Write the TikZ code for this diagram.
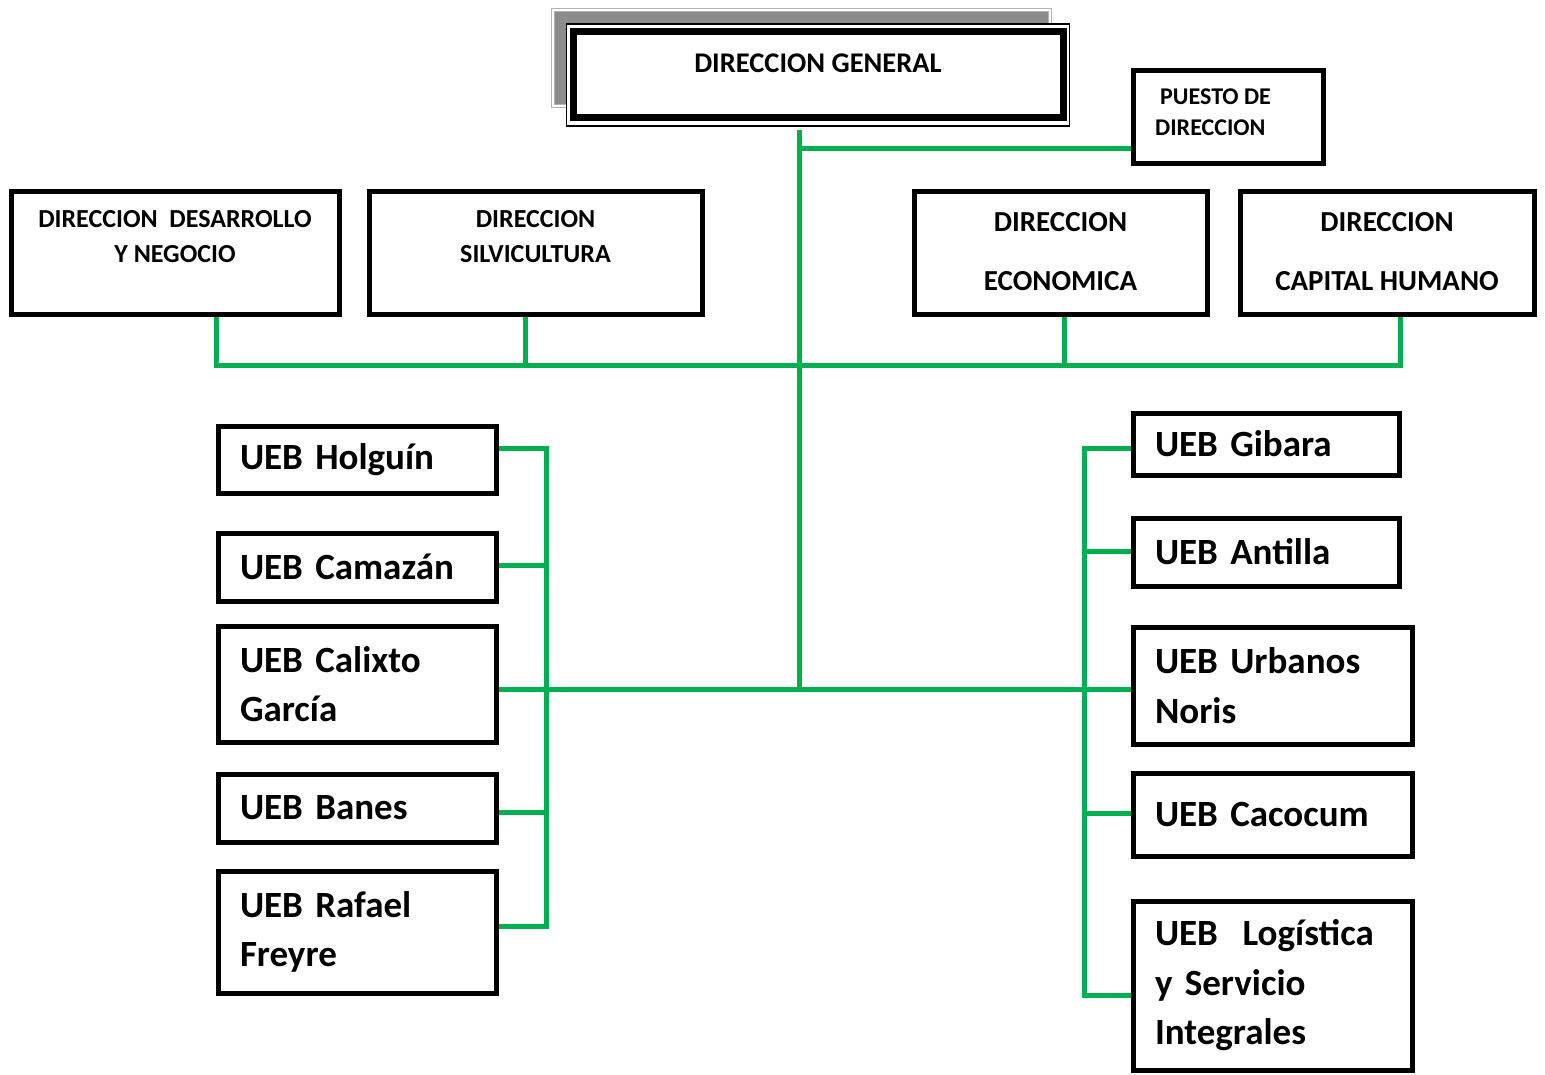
\documentclass[tikz,border=0pt]{standalone}
\usepackage{fontspec}
\setmainfont{Carlito}
\definecolor{lgreen}{RGB}{0,176,80}
\begin{document}
\begin{tikzpicture}[x=1pt,y=-1pt,
  box/.style={draw=black,line width=5pt,fill=white,inner sep=0pt},
  conn/.style={draw=lgreen,line width=5pt},
  ttxt/.style={font=\bfseries\fontsize{26}{35}\selectfont,align=center,inner sep=0pt},
  btxt/.style={font=\bfseries\fontsize{29}{59}\selectfont,align=center,inner sep=0pt},
  ueb/.style={box,font=\bfseries\fontsize{37}{49.5}\selectfont,align=left,inner xsep=22pt,inner ysep=0pt}]
\useasboundingbox (0,0) rectangle (1545,1074);
% Direccion general
\node[draw=gray!60,double=white,double distance=2.5pt,line width=1pt,fill=gray!90,minimum width=497pt,minimum height=96pt,inner sep=0pt] (dgsh) at (801.5,58) {};
\node[draw=black,line width=1.5pt,fill=white,minimum width=503pt,minimum height=102pt,inner sep=0pt] (dg) at (818,75) {};
\node[draw=black,line width=7pt,minimum width=490pt,minimum height=86pt,inner sep=0pt] (dgin) at (818,74) {};
\node[font=\bfseries\fontsize{28.5}{32}\selectfont,inner sep=0pt] (dgt) at (818,63) {DIRECCION GENERAL};
% Puesto de direccion
\node[box,minimum width=190pt,minimum height=93pt] (pd) at (1228,116.5) {};
\node[font=\bfseries\fontsize{24}{31}\selectfont,align=left,inner sep=0pt,anchor=west] (pdt) at (1155,112.5) {\hspace{5pt}PUESTO DE\\DIRECCION};
% Direcciones
\node[box,minimum width=328pt,minimum height=123pt] (dd) at (175,252.5) {};
\node[ttxt] (ddt) at (175,236.5) {DIRECCION\ \ DESARROLLO\\Y NEGOCIO};
\node[box,minimum width=333pt,minimum height=123pt] (ds) at (535.5,252.5) {};
\node[ttxt] (dst) at (535.5,236.5) {DIRECCION\\SILVICULTURA};
\node[box,minimum width=293pt,minimum height=123pt] (de) at (1060.5,252.5) {};
\node[btxt] (det) at (1060.5,251.5) {DIRECCION\\ECONOMICA};
\node[box,minimum width=294pt,minimum height=123pt] (dc) at (1387,252.5) {};
\node[btxt] (dct) at (1387,251.5) {DIRECCION\\CAPITAL HUMANO};
% UEB left
\node[ueb,minimum width=278pt,minimum height=67pt,text width=234pt] (hol) at (357,459.5) {UEB Holguín};
\node[ueb,minimum width=278pt,minimum height=68pt,text width=234pt] (cam) at (357,567) {UEB Camazán};
\node[ueb,minimum width=278pt,minimum height=116pt,text width=234pt] (cal) at (357,684) {UEB Calixto\\García};
\node[ueb,minimum width=278pt,minimum height=68pt,text width=234pt] (ban) at (357,808) {UEB Banes};
\node[ueb,minimum width=278pt,minimum height=122pt,text width=234pt] (raf) at (357,932) {UEB Rafael\\Freyre};
% UEB right
\node[ueb,minimum width=266pt,minimum height=62pt,text width=222pt] (gib) at (1266,444) {UEB Gibara};
\node[ueb,minimum width=266pt,minimum height=68pt,text width=222pt] (ant) at (1266,552) {UEB Antilla};
\node[ueb,minimum width=279pt,minimum height=117pt,text width=235pt] (urb) at (1272.5,685.5) {UEB Urbanos\\Noris};
\node[ueb,minimum width=279pt,minimum height=83pt,text width=235pt] (cac) at (1272.5,814.5) {UEB Cacocum};
\node[ueb,minimum width=279pt,minimum height=169pt,text width=235pt] (log) at (1272.5,985.5) {UEB\ \ Logística\\y Servicio\\Integrales};
% junction coordinates
\coordinate (tt) at (799,130);
\coordinate (tp) at (799,148);
\coordinate (tm) at (799,365);
\coordinate (tb) at (799,689);
\coordinate (b1) at (216,365);
\coordinate (b2) at (525,365);
\coordinate (b3) at (1064,365);
\coordinate (b4) at (1400,365);
\coordinate (l1) at (546,448);
\coordinate (l2) at (546,565);
\coordinate (l3) at (546,689);
\coordinate (l4) at (546,812);
\coordinate (l5) at (546,926);
\coordinate (r1) at (1084,448);
\coordinate (r2) at (1084,551);
\coordinate (r3) at (1084,689);
\coordinate (r4) at (1084,813);
\coordinate (r5) at (1084,995);
% connectors
\draw[conn] (tt) -- (tb);
\draw[conn] (tp) -- (tp -| pd.west);
\draw[conn] (dd.south -| b1) -- (b1) -- (b4) -- (dc.south -| b4);
\draw[conn] (ds.south -| b2) -- (b2);
\draw[conn] (de.south -| b3) -- (b3);
\draw[conn] (cal.east |- tb) -- (urb.west |- tb);
\draw[conn] (hol.east |- l1) -- (l1) -- (l5) -- (raf.east |- l5);
\draw[conn] (cam.east |- l2) -- (l2);
\draw[conn] (ban.east |- l4) -- (l4);
\draw[conn] (gib.west |- r1) -- (r1) -- (r5) -- (log.west |- r5);
\draw[conn] (ant.west |- r2) -- (r2);
\draw[conn] (cac.west |- r4) -- (r4);
\end{tikzpicture}
\end{document}
